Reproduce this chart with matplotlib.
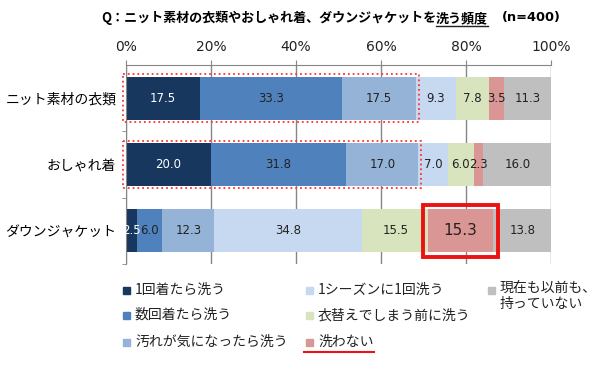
import matplotlib
matplotlib.use("Agg")
import matplotlib.pyplot as plt
from matplotlib.patches import Rectangle
from matplotlib.lines import Line2D
import numpy as np

plt.rcParams['font.family'] = ['Noto Sans CJK JP', 'DejaVu Sans']

# data
categories = ['ニット素材の衣類', 'おしゃれ着', 'ダウンジャケット']
series_names = ['1回着たら洗う', '数回着たら洗う', '汚れが気になったら洗う',
                '1シーズンに1回洗う', '衣替えでしまう前に洗う', '洗わない',
                '現在も以前も、\n持っていない']
knit = [17.5, 33.3, 17.5, 9.3, 7.8, 3.5, 11.3]
oshare = [20.0, 31.8, 17.0, 7.0, 6.0, 2.3, 16.0]
down = [2.5, 6.0, 12.3, 34.8, 15.5, 15.3, 13.8]
x_ticks = [0, 20, 40, 60, 80, 100]
x_tick_labels = ['0%', '20%', '40%', '60%', '80%', '100%']

colors = ['#17375E', '#4F81BD', '#95B3D7', '#C6D9F1', '#D7E4BD', '#D99694', '#BFBFBF']
values = np.array([knit, oshare, down])

W, H = 600, 369
fig = plt.figure(figsize=(6, 3.69), dpi=100)
ax = fig.add_axes([126 / W, 1 - 264 / H, 425 / W, 199 / H])

y = np.arange(len(categories))
left = np.zeros(len(categories))
for j, col in enumerate(colors):
    vals = values[:, j]
    bars = ax.barh(y, vals, left=left, height=0.65, color=col, zorder=2)
    for i, b in enumerate(bars):
        v = vals[i]
        cx = left[i] + v / 2
        txt_col = 'white' if j == 0 else '#222222'
        fs = 11 if (i == 2 and j == 5) else 8.5
        ax.text(cx, y[i], f'{v:.1f}', ha='center', va='center', color=txt_col,
                fontsize=fs, family='DejaVu Sans', zorder=4)
    left += vals

ax.set_xlim(0, 100)
ax.set_ylim(2.5, -0.5)

# top axis
ax.xaxis.tick_top()
ax.set_xticks(x_ticks)
ax.set_xticklabels(x_tick_labels, family='DejaVu Sans', fontsize=10, color='#222222')
ax.tick_params(axis='x', length=3.6, color='#868686', pad=4)
ax.grid(axis='x', color='#868686', lw=1, zorder=0)

ax.set_yticks(y)
ax.set_yticklabels(categories, fontsize=10)
ax.set_yticks([0.5, 1.5, 2.5], minor=True)
ax.tick_params(axis='y', which='major', length=0, pad=7)
ax.tick_params(axis='y', which='minor', length=3, color='#868686')

for s in ['right', 'bottom']:
    ax.spines[s].set_visible(False)
for s in ['top', 'left']:
    ax.spines[s].set_color('#868686')

# red dotted boxes around first three segments
for i in [0, 1]:
    w3 = values[i, :3].sum()
    ax.add_patch(Rectangle((-0.8, i - 0.36), w3 + 1.5, 0.72, fill=False,
                           ec='#FF3333', ls=':', lw=1.3, clip_on=False, zorder=5))

# solid red box around "洗わない" for down jacket
s0 = values[2, :5].sum()
ax.add_patch(Rectangle((s0 - 1.2, 2 - 0.39), values[2, 5] + 2.4, 0.78, fill=False,
                       ec='#EE1111', lw=2.8, clip_on=False, zorder=5))

# title with underline
fig.canvas.draw()
r = fig.canvas.get_renderer()
ty = 1 - 18 / H
parts = ['Q：ニット素材の衣類やおしゃれ着、ダウンジャケットを', '洗う頻度']
x0 = 101 / W
for k, p in enumerate(parts):
    t = fig.text(x0, ty, p, fontsize=9.4, fontweight='bold', va='center', ha='left')
    bb = t.get_window_extent(renderer=r)
    if k == 1:
        fig.add_artist(Line2D([bb.x0 / W, bb.x1 / W], [1 - 26 / H] * 2, color='#222222', lw=1))
    x0 = bb.x1 / W
fig.text(x0 + 14 / W, ty, '(n=400)', fontsize=9.4, fontweight='bold', family='DejaVu Sans',
         va='center', ha='left')

# legend
col_x = [123, 306, 488]
row_y = [290, 315, 342]
pos = [(0, 0), (0, 1), (0, 2), (1, 0), (1, 1), (1, 2), (2, 0)]
for name, col, (c, rr) in zip(series_names, colors, pos):
    mx, my = col_x[c], row_y[rr]
    fig.add_artist(Rectangle((mx / W, 1 - (my + 3.5) / H), 7 / W, 7 / H, color=col))
    t = fig.text((mx + 12) / W, 1 - my / H, name, fontsize=10, va='center' if '\n' not in name else 'top',
                 ha='left', color='#222222', linespacing=1.15)
    if '\n' in name:
        t.set_y(1 - (my - 9) / H)
    if name == '洗わない':
        bb = t.get_window_extent(renderer=r)
        fig.add_artist(Line2D([(mx - 2) / W, bb.x1 / W], [1 - 352 / H] * 2, color='#EE1111', lw=1.5))

fig.savefig('out.png', dpi=100)
